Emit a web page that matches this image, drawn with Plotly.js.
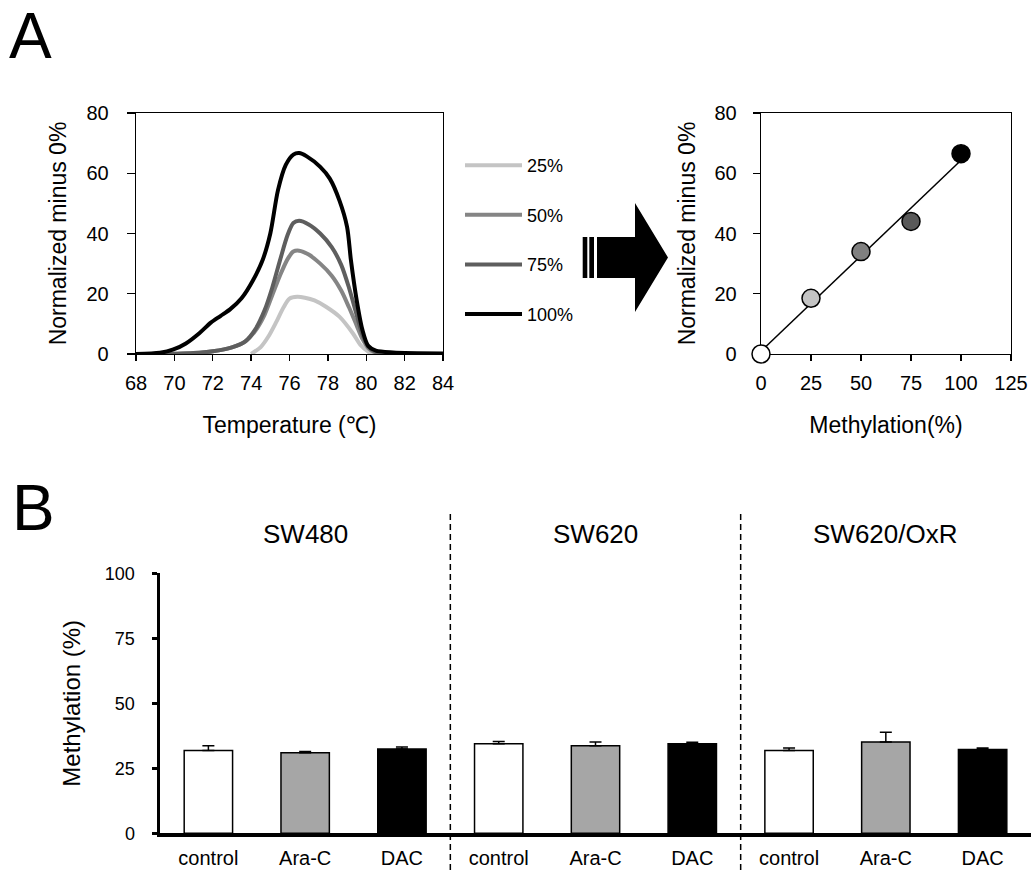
<!DOCTYPE html>
<html>
<head>
<meta charset="utf-8">
<script src="https://cdn.plot.ly/plotly-3.0.1.min.js"></script>
<style>html,body{margin:0;padding:0;background:#fff;}#chart{width:1031px;height:870px;}</style>
</head>
<body>
<div id="chart"></div>
<script>
// ---- Panel A (left): melting-curve differences ----
const curveNames = ['25%', '50%', '75%', '100%'];
const curveColors = ['#c4c4c4', '#858585', '#5e5e5e', '#000000'];
const temp25 = [74.0, 74.5, 74.9, 75.3, 75.7, 76.0, 76.4, 76.8, 77.3, 77.9, 78.6, 79.3, 79.7, 80.1, 80.3, 81.0];
const val25 = [0, 2.3, 5.8, 10.5, 15.6, 18.4, 19.0, 18.7, 17.8, 15.7, 12.4, 6.9, 3.0, 0.8, 0.1, 0];
const temp50 = [69.0, 70.0, 71.0, 72.0, 73.0, 73.7, 74.2, 74.7, 75.1, 75.5, 75.9, 76.2, 76.5, 77.0, 77.6, 78.2, 78.7, 79.1, 79.5, 79.8, 80.1, 80.5, 81.0];
const val50 = [0, 0.1, 0.3, 0.9, 2.2, 4.2, 7.5, 13.0, 19.5, 26.0, 31.5, 34.0, 34.3, 33.0, 30.0, 26.0, 21.0, 15.5, 9.5, 5.0, 2.0, 0.4, 0];
const temp75 = [69.0, 70.0, 71.0, 72.0, 73.0, 73.7, 74.2, 74.7, 75.1, 75.5, 75.9, 76.2, 76.5, 77.0, 77.6, 78.2, 78.7, 79.1, 79.5, 79.8, 80.1, 80.5, 81.0];
const val75 = [0, 0.1, 0.3, 0.9, 2.2, 4.2, 8.0, 14.5, 22.0, 31.0, 39.5, 43.5, 44.2, 43.0, 40.0, 35.5, 29.5, 22.0, 13.0, 6.5, 2.5, 0.6, 0];
const temp100 = [68.0, 69.25, 69.95, 70.6, 71.3, 71.9, 72.4, 72.9, 73.5, 74.1, 74.6, 75.0, 75.4, 75.8, 76.2, 76.5, 76.9, 77.6, 78.1, 78.6, 79.0, 79.2, 79.5, 79.8, 80.1, 80.5, 81.4, 84.0];
const val100 = [0, 0.4, 1.5, 3.5, 6.9, 10.4, 12.6, 14.8, 18.5, 24.5, 31.2, 40.0, 54.4, 62.7, 66.2, 66.7, 65.6, 62.1, 58.2, 51.0, 42.2, 31.2, 17.9, 8.0, 2.7, 1.1, 0.5, 0.2];

// ---- Panel A (right): peak height vs methylation ----
const methLevels = [0, 25, 50, 75, 100];
const peakHeights = [0, 18.5, 34.0, 44.0, 66.5];
const pointColors = ['#ffffff', '#c4c4c4', '#808080', '#595959', '#000000'];
const fitX = [0, 100];
const fitY = [0.9, 64.3];

// ---- Panel B: methylation bars ----
const cellLines = ['SW480', 'SW620', 'SW620/OxR'];
const treatments = ['control', 'Ara-C', 'DAC'];
const treatColors = ['#ffffff', '#a6a6a6', '#000000'];
const methSW480 = [31.8, 31.0, 32.4];
const errSW480 = [1.9, 0.5, 0.8];
const methSW620 = [34.4, 33.7, 34.4];
const errSW620 = [0.9, 1.4, 0.6];
const methOxR = [31.8, 35.1, 32.2];
const errOxR = [1.0, 3.8, 0.6];

const FONT = 'Liberation Sans, Arial, Helvetica, sans-serif';
const W = 1031, H = 870;
const px = v => v / W;
const py = v => 1 - v / H;

const curveTemps = [temp25, temp50, temp75, temp100];
const curveVals = [val25, val50, val75, val100];
const traces = [];
curveNames.forEach((n, i) => {
  traces.push({
    type: 'scatter', mode: 'lines', name: n, legendgroup: 'g' + i,
    x: curveTemps[i], y: curveVals[i], xaxis: 'x', yaxis: 'y',
    line: {color: curveColors[i], width: 4, shape: 'spline', smoothing: 0.8},
    cliponaxis: false, hoverinfo: 'x+y'
  });
});
traces.push({
  type: 'scatter', mode: 'lines', x: fitX, y: fitY, xaxis: 'x2', yaxis: 'y2',
  line: {color: '#000', width: 1.5}, showlegend: false, cliponaxis: false
});
traces.push({
  type: 'scatter', mode: 'markers', x: methLevels, y: peakHeights, xaxis: 'x2', yaxis: 'y2',
  marker: {size: 18, color: pointColors, line: {color: '#000', width: 1.5}},
  showlegend: false, cliponaxis: false
});

const allMeth = [].concat(methSW480, methSW620, methOxR);
const allErr = [].concat(errSW480, errSW620, errOxR);
const barX = [], barText = [], barColors = [];
cellLines.forEach((c, gi) => treatments.forEach((t, ti) => {
  barX.push(gi * treatments.length + ti);
  barText.push(t);
  barColors.push(treatColors[ti]);
}));
traces.push({
  type: 'bar', x: barX, y: allMeth, xaxis: 'x3', yaxis: 'y3', width: 0.5,
  marker: {color: barColors, line: {color: '#000', width: 1.5}},
  error_y: {type: 'data', symmetric: false, array: allErr, arrayminus: allErr.map(() => 0),
            color: '#000', thickness: 1.5, width: 6},
  showlegend: false
});

const tickFontA = {family: FONT, size: 20, color: '#000'};
const titleFontA = {family: FONT, size: 23, color: '#000'};
const axisBase = {showgrid: false, zeroline: false, showline: true, linecolor: '#000', linewidth: 1.3,
                  mirror: true, ticks: 'outside', tickcolor: '#000', tickwidth: 1.3, automargin: false,
                  layer: 'below traces'};

const shapes = [
  // arrow
  {type: 'path', xref: 'paper', yref: 'paper', fillcolor: '#000', line: {width: 0},
   path: `M${px(597)},${py(237)} L${px(635)},${py(237)} L${px(635)},${py(203)} L${px(668)},${py(257.5)} L${px(635)},${py(312)} L${px(635)},${py(278)} L${px(597)},${py(278)} Z`},
  {type: 'rect', xref: 'paper', yref: 'paper', x0: px(582.7), x1: px(587.3), y0: py(278), y1: py(237), fillcolor: '#000', line: {width: 0}},
  {type: 'rect', xref: 'paper', yref: 'paper', x0: px(589.3), x1: px(594), y0: py(278), y1: py(237), fillcolor: '#000', line: {width: 0}},
  // group dividers
  {type: 'line', xref: 'x3', yref: 'paper', x0: 2.5, x1: 2.5, y0: 0, y1: py(513), line: {color: '#000', width: 1.5, dash: '6px,4px'}},
  {type: 'line', xref: 'x3', yref: 'paper', x0: 5.5, x1: 5.5, y0: 0, y1: py(513), line: {color: '#000', width: 1.5, dash: '6px,4px'}}
];

const annotations = [
  {text: 'A', xref: 'paper', yref: 'paper', x: px(7), y: py(36), xanchor: 'left', yanchor: 'middle', showarrow: false,
   font: {family: FONT, size: 64, color: '#000'}},
  {text: 'B', xref: 'paper', yref: 'paper', x: px(10), y: py(508), xanchor: 'left', yanchor: 'middle', showarrow: false,
   font: {family: FONT, size: 64, color: '#000'}}
];
cellLines.forEach((c, gi) => annotations.push({
  text: c, xref: 'x3', yref: 'paper', x: gi * treatments.length + 1, y: py(534), xanchor: 'center', yanchor: 'middle',
  showarrow: false, font: {family: FONT, size: 26, color: '#000'}
}));

const layout = {
  width: W, height: H, margin: {l: 0, r: 0, t: 0, b: 0},
  paper_bgcolor: '#fff', plot_bgcolor: 'rgba(0,0,0,0)',
  font: {family: FONT, color: '#000'},
  showlegend: true,
  legend: {x: px(460), y: py(147), xanchor: 'left', yanchor: 'top', tracegroupgap: 23.2,
           font: {family: FONT, size: 18, color: '#000'}, bgcolor: 'rgba(0,0,0,0)', itemwidth: 57},
  xaxis: Object.assign({}, axisBase, {domain: [px(136), px(443)], range: [68, 84], dtick: 2, tick0: 68, ticklen: 6,
          tickfont: tickFontA, ticklabelstandoff: 5,
          title: {text: 'Temperature (℃)', font: titleFontA, standoff: 23}, anchor: 'y'}),
  yaxis: Object.assign({}, axisBase, {domain: [py(354), py(113)], range: [0, 80], dtick: 20, ticklen: 8,
          tickfont: tickFontA, ticklabelstandoff: 14,
          title: {text: 'Normalized minus 0%', font: titleFontA, standoff: 13}, anchor: 'x'}),
  xaxis2: Object.assign({}, axisBase, {domain: [px(761), px(1011)], range: [0, 125], dtick: 25, ticklen: 6,
          tickfont: tickFontA, ticklabelstandoff: 5,
          title: {text: 'Methylation(%)', font: titleFontA, standoff: 23}, anchor: 'y2'}),
  yaxis2: Object.assign({}, axisBase, {domain: [py(354), py(113)], range: [0, 80], dtick: 20, ticklen: 7,
          tickfont: tickFontA, ticklabelstandoff: 12,
          title: {text: 'Normalized minus 0%', font: titleFontA, standoff: 12}, anchor: 'x2'}),
  xaxis3: {domain: [px(160), 1], range: [-0.5, 8.5], tickmode: 'array', tickvals: barX, ticktext: barText,
           showgrid: false, zeroline: false, showline: true, linecolor: '#000', linewidth: 4, ticks: '',
           tickfont: {family: FONT, size: 20, color: '#000'}, ticklabelstandoff: 4, anchor: 'y3', automargin: false},
  yaxis3: {domain: [py(833.3), py(573.3)], range: [0, 100], tickmode: 'array', tickvals: [0, 25, 50, 75, 100],
           showgrid: false, zeroline: false, showline: true, linecolor: '#000', linewidth: 3.5,
           ticks: 'outside', ticklen: 5, tickwidth: 2.5, tickcolor: '#000',
           tickfont: {family: FONT, size: 18, color: '#000'}, ticklabelstandoff: 13,
           title: {text: 'Methylation (%)', font: {family: FONT, size: 24, color: '#000'}, standoff: 18},
           anchor: 'x3', automargin: false},
  shapes: shapes,
  annotations: annotations
};

Plotly.newPlot('chart', traces, layout, {staticPlot: true, displayModeBar: false});
</script>
</body>
</html>
